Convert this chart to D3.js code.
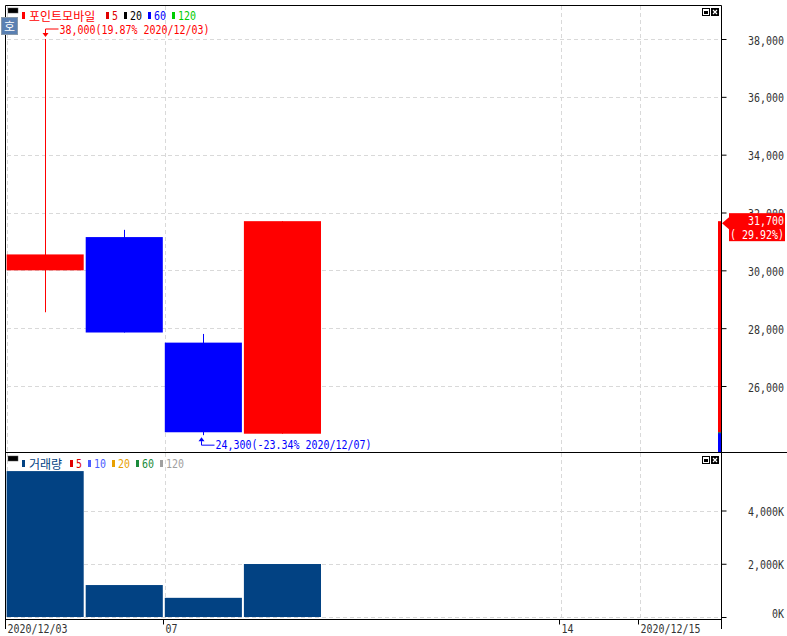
<!DOCTYPE html>
<html><head><meta charset="utf-8">
<script src="https://cdn.jsdelivr.net/npm/d3@7/dist/d3.min.js"></script>
<style>body{margin:0;background:#fff}svg{display:block}</style>
</head><body>
<svg id="c" width="787" height="636"></svg>
<script>
// ---------- data ----------
const dates = ["2020/12/03","2020/12/04","2020/12/07","2020/12/08","2020/12/09","2020/12/10","2020/12/11","2020/12/14","2020/12/15"];
const opens  = [30000, 31150, 27500, 24350];
const highs  = [38000, 31400, 27800, 31700];
const lows   = [28550, 27850, 24300, 24350];
const closes = [30550, 27850, 24400, 31700];
const volumes = [5480, 1200, 720, 1990]; // thousand shares
const prevClose = 24400;
const priceTicks = [26000, 28000, 30000, 32000, 34000, 36000, 38000];
const volumeTicks = [0, 2000, 4000];
const timeTicks = ["2020/12/03", "2020/12/07", "2020/12/14", "2020/12/15"];
const timeTickLabels = ["2020/12/03", "07", "14", "2020/12/15"];
const stockName = "포인트모바일";
const priceLegendLabels = ["5", "20", "60", "120"];
const priceLegendColors = ["#e00000", "#000000", "#0000ff", "#00cc00"];
const volName = "거래량";
const volLegendLabels = ["5", "10", "20", "60", "120"];
const volLegendColors = ["#e00000", "#4a5cff", "#e8a000", "#1a8a3a", "#a0a0a0"];

// ---------- layout ----------
const L = 6, R = 721, T = 5, SEP = 452, B = 619;
const UP = "#ff0000", DOWN = "#0000ff", VOL = "#024283";
const MONO = "'DejaVu Sans Mono', monospace";
const KR = "'Noto Sans CJK KR', sans-serif";
const FS = 13;
const SX = 6 / (0.6021 * FS); // squeeze to 6px per character

const svg = d3.select("#c");
const x = d3.scaleBand().domain(dates).range([L, L + 9 * 79.1]).padding(0);
const bw = x.bandwidth();
const yP = d3.scaleLinear().domain([26000, 38000]).range([386, 39]);
const yV = d3.scaleLinear().domain([0, 4000]).range([617, 510.5]);
const fmt = d3.format(",");

function monoText(g, str, xx, yy, color, anchor) {
  return g.append("text").attr("transform", `translate(${xx},${yy}) scale(${SX},1)`)
    .attr("font-family", MONO).attr("font-size", FS)
    .attr("text-anchor", anchor || "start").attr("fill", color).text(str);
}

// ---------- grid ----------
const grid = svg.append("g").attr("stroke", "#d9d9d9").attr("stroke-dasharray", "4,3").attr("stroke-width", 1);
priceTicks.forEach(v => grid.append("line").attr("x1", L + 1).attr("x2", R).attr("y1", Math.round(yP(v)) + 0.5).attr("y2", Math.round(yP(v)) + 0.5));
volumeTicks.forEach(v => grid.append("line").attr("x1", L + 1).attr("x2", R).attr("y1", Math.round(yV(v)) + 0.5).attr("y2", Math.round(yV(v)) + 0.5));
timeTicks.forEach(d => {
  const xx = Math.round(x(d)) + 1.5;
  grid.append("line").attr("x1", xx).attr("x2", xx).attr("y1", T + 1).attr("y2", SEP);
  grid.append("line").attr("x1", xx).attr("x2", xx).attr("y1", SEP + 1).attr("y2", B);
});

// ---------- candles ----------
const idx = d3.range(closes.length);
const cg = svg.append("g");
idx.forEach(i => {
  const d = dates[i];
  const col = closes[i] >= opens[i] ? UP : DOWN;
  const cx = Math.floor(x(d) + bw / 2) + 0.5;
  cg.append("line").attr("x1", cx).attr("x2", cx).attr("y1", yP(highs[i])).attr("y2", yP(lows[i]))
    .attr("stroke", col).attr("stroke-width", 1);
  const top = yP(Math.max(opens[i], closes[i])), bot = yP(Math.min(opens[i], closes[i]));
  cg.append("rect").attr("x", x(d) + 0.6).attr("width", bw - 2)
    .attr("y", top).attr("height", Math.max(1, bot - top)).attr("fill", col);
});

// ---------- volume ----------
svg.append("g").selectAll("rect").data(idx).join("rect")
  .attr("x", i => x(dates[i]) + 0.6).attr("width", bw - 2)
  .attr("y", i => yV(volumes[i])).attr("height", i => yV(0) - yV(volumes[i]))
  .attr("fill", VOL);

// ---------- high / low annotations ----------
const last = closes[closes.length - 1];
const hi = d3.maxIndex(highs), lo = d3.minIndex(lows);
const pct = v => ((v - last) / last * 100).toFixed(2);
{
  const cx = Math.floor(x(dates[hi]) + bw / 2) + 0.5, yy = yP(highs[hi]);
  const g = svg.append("g");
  g.append("path").attr("d", `M${cx},${yy - 6} V${yy - 10} H${cx + 13}`).attr("fill", "none").attr("stroke", UP);
  g.append("path").attr("d", `M${cx - 3},${yy - 6} L${cx + 3},${yy - 6} L${cx},${yy - 2} Z`).attr("fill", UP);
  monoText(g, `${fmt(highs[hi])}(${pct(highs[hi])}% ${dates[hi]})`, cx + 14, yy - 5, UP);
}
{
  const cx = Math.floor(x(dates[lo]) + bw / 2) - 1.5, yy = yP(lows[lo]);
  const g = svg.append("g");
  g.append("path").attr("d", `M${cx},${yy + 6} V${yy + 10} H${cx + 13}`).attr("fill", "none").attr("stroke", DOWN);
  g.append("path").attr("d", `M${cx - 3},${yy + 6} L${cx + 3},${yy + 6} L${cx},${yy + 2} Z`).attr("fill", DOWN);
  monoText(g, `${fmt(lows[lo])}(${pct(lows[lo])}% ${dates[lo]})`, cx + 14, yy + 14, DOWN);
}

// ---------- right current-price strip ----------
svg.append("rect").attr("x", 718).attr("width", 3).attr("y", yP(last)).attr("height", yP(prevClose) - yP(last)).attr("fill", UP);
svg.append("rect").attr("x", 718).attr("width", 3).attr("y", yP(prevClose)).attr("height", SEP - yP(prevClose)).attr("fill", DOWN);
svg.append("rect").attr("x", 718).attr("width", 3).attr("y", yP(prevClose)).attr("height", 1).attr("fill", "#2a8a2a");

// ---------- frame ----------
const fr = svg.append("g").attr("stroke", "#000").attr("stroke-width", 1).attr("fill", "none");
fr.append("path").attr("d", `M${L - 0.5},${B + 10} V${T + 0.5} H${R + 0.5} V${B + 10}`);
fr.append("line").attr("x1", L - 1).attr("x2", 787).attr("y1", SEP + 0.5).attr("y2", SEP + 0.5);
fr.append("line").attr("x1", L - 1).attr("x2", R + 1).attr("y1", B + 0.5).attr("y2", B + 0.5);

// ---------- axes ----------
function styleAxis(g, tx, tyFn, anchor) {
  g.select(".domain").remove();
  g.selectAll(".tick line").attr("stroke", "#000");
  g.selectAll(".tick text").attr("font-family", MONO).attr("font-size", FS).attr("fill", "#333")
    .attr("x", null).attr("y", null).attr("dy", null).attr("text-anchor", anchor)
    .attr("transform", d => `translate(${tx},${tyFn(d)}) scale(${SX},1)`);
}
const ay = svg.append("g").attr("transform", `translate(${R + 0.5},0)`)
  .call(d3.axisRight(yP).tickValues(priceTicks).tickSize(5).tickFormat(fmt));
styleAxis(ay, 62.5, () => 5, "end");

const av = svg.append("g").attr("transform", `translate(${R + 0.5},0)`)
  .call(d3.axisRight(yV).tickValues(volumeTicks).tickSize(5).tickFormat(v => fmt(v) + "K"));
styleAxis(av, 62.5, v => v === 0 ? 0 : 5, "end");

const ax = svg.append("g").attr("transform", `translate(0,${B + 0.5})`)
  .call(d3.axisBottom(x).tickValues(timeTicks).tickSize(5).tickFormat((d, i) => timeTickLabels[i]));
styleAxis(ax, 2, () => 13, "start");
ax.selectAll(".tick").attr("transform", d => `translate(${Math.round(x(d)) - 0.5},0)`);

// ---------- current price label ----------
{
  const yy = yP(last);
  svg.append("path").attr("d", `M722,${yy + 2} L729,${yy - 4} L729,${yy + 8} Z`).attr("fill", UP);
  svg.append("rect").attr("x", 729).attr("y", yy - 8).attr("width", 56).attr("height", 28).attr("fill", UP);
  const g = svg.append("g");
  monoText(g, fmt(last), 784, yy + 4, "#fff", "end");
  monoText(g, `( ${((last - prevClose) / prevClose * 100).toFixed(2)}%)`, 784, yy + 18, "#fff", "end");
}

// ---------- legends ----------
function legend(y0, name, nameColor, labels, colors) {
  const g = svg.append("g");
  g.append("rect").attr("x", 8).attr("y", y0 - 12).attr("width", 10).attr("height", 5).attr("fill", "#000").attr("stroke", "#555").attr("stroke-width", 0.5);
  g.append("rect").attr("x", 22).attr("y", y0 - 8).attr("width", 3).attr("height", 7).attr("fill", nameColor);
  g.append("text").attr("x", 29).attr("y", y0 + 0.5).attr("font-family", KR).attr("font-size", 12)
    .attr("fill", nameColor).text(name);
  let xx = 29 + name.length * 12 + 5;
  const x0 = xx;
  const t = g.append("text").attr("transform", `translate(${x0},${y0}) scale(${SX},1)`)
    .attr("font-family", MONO).attr("font-size", FS);
  labels.forEach((lab, i) => {
    g.append("rect").attr("x", xx).attr("y", y0 - 8).attr("width", 3).attr("height", 7).attr("fill", colors[i]);
    t.append("tspan").attr("x", (xx + 6 - x0) / SX).attr("fill", colors[i]).text(lab);
    xx += 6 + lab.length * 6 + 6;
  });
}
legend(20, stockName, "#ff0000", priceLegendLabels, priceLegendColors);
legend(468, volName, VOL, volLegendLabels, volLegendColors);

// ---------- "호" button ----------
svg.append("rect").attr("x", 1.5).attr("y", 17.5).attr("width", 16).attr("height", 17).attr("fill", "#5a80b2").attr("stroke", "#8899aa");
svg.append("text").attr("x", 9.5).attr("y", 30.5).attr("text-anchor", "middle").attr("font-family", KR).attr("font-size", 12).attr("fill", "#fff").text("호");

// ---------- panel icons ----------
function icons(y0) {
  const g = svg.append("g");
  g.append("rect").attr("x", 702.5).attr("y", y0 + 0.5).attr("width", 7).attr("height", 7).attr("fill", "#fff").attr("stroke", "#000");
  g.append("rect").attr("x", 704).attr("y", y0 + 3).attr("width", 4).attr("height", 3).attr("fill", "#000");
  g.append("rect").attr("x", 711).attr("y", y0).attr("width", 8).attr("height", 8).attr("fill", "#000");
  g.append("path").attr("d", `M713,${y0 + 2} L717,${y0 + 6} M717,${y0 + 2} L713,${y0 + 6}`).attr("stroke", "#fff").attr("stroke-width", 1.2);
}
icons(8);
icons(456);
</script>
</body></html>
